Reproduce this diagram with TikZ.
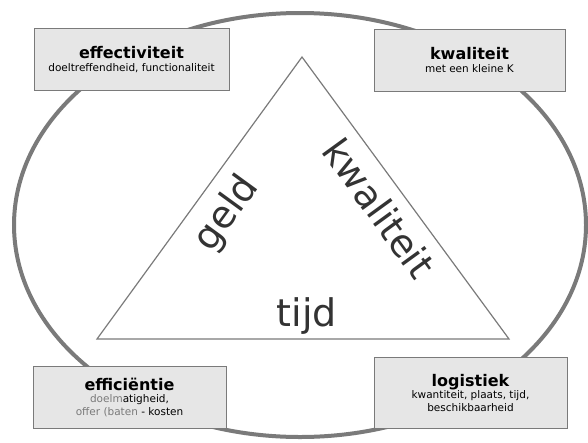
\documentclass[tikz,border=0pt]{standalone}
\usepackage{fontspec}
\setmainfont{DejaVu Sans}

\definecolor{randGrijs}{HTML}{7A7A7A}
\definecolor{vakGrijs}{HTML}{E6E6E6}
\definecolor{tekstGrijs}{HTML}{333333}

\tikzset{
  vak/.style={draw=randGrijs, line width=0.8pt, fill=vakGrijs, minimum width=193pt, minimum height=62pt,
    align=center, inner sep=2pt, text=black, font=\fontsize{10.5}{12.5}\selectfont},
  hoek/.style={font=\fontsize{38}{40}\selectfont, text=tekstGrijs, inner sep=0pt},
}

\def \titel #1{{\bfseries\fontsize{16}{16}\selectfont #1}}

\begin{document}
\begin{tikzpicture}[x=1pt, y=-1pt]
         \useasboundingbox (0,0) rectangle (588,442);
         \draw[randGrijs, line width=4pt] (300,225) ellipse (286 and 212);
         % driehoek
         \coordinate (top) at (302,57);
         \coordinate (linksonder) at (97,339);
         \coordinate (rechtsonder) at (509,339);
         \draw[randGrijs, line width=1.2pt, line join=miter] (top) -- (linksonder) -- (rechtsonder) -- cycle;
         \node[hoek, rotate=54] (geld) at (227,214) {geld};
         \node[hoek, rotate=-54] (kwaliteit) at (379,208) {kwaliteit};
         \node[hoek] (tijd) at (307,316) {tijd};
         % vakken in de hoeken
         \node[vak, minimum width=195pt] (effectiviteit) at (131.5,59.5) {\titel{effectiviteit}\\ doeltreffendheid, functionaliteit};
         \node[vak, minimum width=191pt] (kwaliteitvak) at (469.5,60) {\titel{kwaliteit}\\ met een kleine K};
         \node[vak] (efficientie) at (129.5,397) {\titel{efficiëntie}\\ \textcolor{randGrijs}{doelm}atigheid,\\ \textcolor{randGrijs}{offer (baten} - kosten};
         \node[vak, minimum height=71pt] (logistiek) at (470.5,392.5) {\titel{logistiek}\\ kwantiteit, plaats, tijd,\\ beschikbaarheid};
      \end{tikzpicture}
\end{document}
